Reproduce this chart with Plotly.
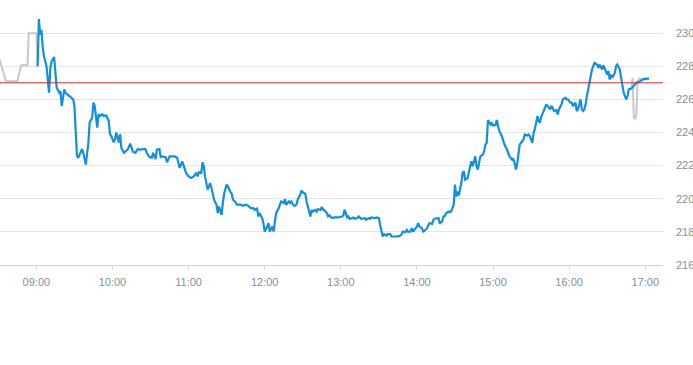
import plotly.graph_objects as go

DAY = "2024-01-02 "

pre_times = ["08:31", "08:36", "08:45", "08:48", "08:53", "08:54", "09:00", "09:01"]
pre_values = [228.42, 227.1, 227.1, 228.06, 228.06, 230.0, 230.0, 228.0]

post_times = ["16:49", "16:50", "16:51", "16:52", "16:53", "16:54", "16:55", "17:03"]
post_values = [226.65, 227.3, 224.9, 224.8, 225.1, 227.1, 227.25, 227.25]

main_times = [
    "09:01", "09:02", "09:03", "09:04", "09:05", "09:06", "09:08", "09:09", "09:10", "09:11",
    "09:12", "09:14", "09:15", "09:16", "09:18", "09:19", "09:20", "09:22", "09:23", "09:25",
    "09:26", "09:29", "09:30", "09:31", "09:32", "09:33", "09:36", "09:37", "09:39", "09:41",
    "09:42", "09:44", "09:45", "09:46", "09:48", "09:49", "09:50", "09:52", "09:53", "09:55",
    "09:57", "09:58", "09:59", "10:01", "10:02", "10:03", "10:05", "10:06", "10:07", "10:09",
    "10:11", "10:12", "10:14", "10:16", "10:18", "10:20", "10:22", "10:24", "10:26", "10:27",
    "10:29", "10:31", "10:32", "10:34", "10:35", "10:37", "10:38", "10:39", "10:41", "10:42",
    "10:43", "10:45", "10:47", "10:49", "10:51", "10:52", "10:53", "10:55", "10:57", "10:58",
    "11:00", "11:02", "11:04", "11:06", "11:07", "11:08", "11:10", "11:11", "11:12", "11:13",
    "11:15", "11:16", "11:17", "11:19", "11:20", "11:22", "11:23", "11:24", "11:26", "11:27",
    "11:28", "11:30", "11:31", "11:33", "11:34", "11:35", "11:37", "11:38", "11:41", "11:43",
    "11:45", "11:47", "11:49", "11:51", "11:52", "11:54", "11:55", "11:56", "11:58", "11:59",
    "12:00", "12:02", "12:03", "12:04", "12:06", "12:07", "12:08", "12:09", "12:11", "12:12",
    "12:13", "12:15", "12:16", "12:17", "12:19", "12:20", "12:21", "12:23", "12:24", "12:25",
    "12:26", "12:28", "12:29", "12:30", "12:32", "12:33", "12:34", "12:36", "12:37", "12:38",
    "12:40", "12:41", "12:42", "12:44", "12:45", "12:46", "12:48", "12:49", "12:50", "12:51",
    "12:53", "12:55", "12:58", "13:01", "13:02", "13:03", "13:05", "13:06", "13:07", "13:09",
    "13:10", "13:11", "13:13", "13:14", "13:15", "13:16", "13:19", "13:20", "13:22", "13:23",
    "13:24", "13:27", "13:28", "13:30", "13:31", "13:32", "13:33", "13:34", "13:36", "13:37",
    "13:39", "13:40", "13:43", "13:45", "13:47", "13:48", "13:49", "13:51", "13:52", "13:53",
    "13:55", "13:56", "13:57", "13:58", "14:00", "14:01", "14:02", "14:04", "14:05", "14:06",
    "14:08", "14:09", "14:10", "14:12", "14:13", "14:14", "14:16", "14:17", "14:18", "14:20",
    "14:21", "14:22", "14:23", "14:25", "14:26", "14:27", "14:29", "14:30", "14:31", "14:32",
    "14:33", "14:34", "14:35", "14:36", "14:37", "14:38", "14:39", "14:40", "14:42", "14:43",
    "14:44", "14:46", "14:47", "14:48", "14:49", "14:50", "14:52", "14:53", "14:54", "14:55",
    "14:56", "14:58", "14:59", "15:00", "15:02", "15:03", "15:04", "15:05", "15:07", "15:08",
    "15:09", "15:11", "15:12", "15:13", "15:15", "15:16", "15:17", "15:18", "15:19", "15:20",
    "15:21", "15:23", "15:24", "15:25", "15:27", "15:28", "15:29", "15:31", "15:32", "15:33",
    "15:34", "15:35", "15:36", "15:37", "15:38", "15:40", "15:41", "15:42", "15:44", "15:45",
    "15:46", "15:47", "15:48", "15:50", "15:51", "15:52", "15:54", "15:55", "15:57", "15:58",
    "15:59", "16:01", "16:02", "16:03", "16:05", "16:06", "16:07", "16:09", "16:10", "16:11",
    "16:12", "16:13", "16:14", "16:15", "16:16", "16:18", "16:19", "16:20", "16:22", "16:23",
    "16:24", "16:26", "16:27", "16:28", "16:30", "16:31", "16:32", "16:33", "16:34", "16:36",
    "16:37", "16:38", "16:40", "16:41", "16:42", "16:43", "16:44", "16:45", "16:46", "16:47",
    "16:49", "16:51", "16:53", "16:56", "16:58", "17:01", "17:03",
]
main_values = [
    228.0, 230.85, 229.9, 230.2, 229.15, 228.6, 228.0, 227.2, 226.4, 227.9,
    228.3, 228.55, 227.6, 226.7, 226.4, 226.5, 225.6, 226.6, 226.4, 226.25,
    226.2, 226.0, 225.6, 224.4, 222.6, 222.47, 223.0, 222.77, 222.06, 223.38,
    224.6, 224.9, 225.8, 225.6, 224.3, 225.1, 225.0, 225.1, 225.0, 225.03,
    224.7, 223.9, 223.8, 223.4, 223.6, 224.0, 223.4, 223.9, 223.07, 222.77,
    222.9, 222.97, 223.33, 222.85, 222.77, 223.0, 222.95, 223.0, 223.0, 222.77,
    222.53, 222.47, 222.77, 222.4, 222.97, 223.0, 222.53, 222.56, 222.53, 222.5,
    222.2, 222.56, 222.56, 222.56, 222.47, 222.06, 221.86, 222.26, 221.76, 221.56,
    221.35, 221.25, 221.35, 221.56, 221.35, 221.6, 221.56, 222.2, 221.96, 221.35,
    220.55, 220.75, 220.95, 220.35, 219.94, 219.64, 219.13, 219.53, 219.03, 219.74,
    220.3, 220.85, 220.75, 220.4, 220.3, 219.94, 219.8, 219.64, 219.64, 219.58,
    219.64, 219.58, 219.43, 219.43, 219.33, 219.4, 218.93, 219.13, 218.83, 218.53,
    218.02, 218.32, 218.53, 218.02, 218.32, 218.02, 218.73, 219.13, 219.43, 219.64,
    219.84, 219.74, 219.98, 219.64, 219.84, 219.74, 219.84, 219.58, 219.58, 219.64,
    219.94, 220.24, 220.5, 220.38, 220.3, 219.84, 219.53, 218.93, 219.33, 219.23,
    219.33, 219.23, 219.37, 219.33, 219.5, 219.37, 219.23, 219.13, 218.93, 219.0,
    218.83, 218.87, 218.87, 218.93, 219.0, 219.33, 218.87, 218.93, 218.79, 218.83,
    218.87, 218.79, 218.83, 218.93, 218.87, 218.79, 218.83, 218.73, 218.83, 218.79,
    218.87, 218.83, 218.87, 218.83, 218.42, 218.12, 217.72, 217.86, 217.78, 217.86,
    217.86, 217.72, 217.72, 217.72, 217.78, 217.86, 218.02, 217.98, 218.12, 218.02,
    218.02, 218.22, 218.02, 218.12, 218.32, 218.53, 218.32, 218.22, 218.02, 218.07,
    218.22, 218.42, 218.53, 218.48, 218.73, 218.79, 218.79, 218.83, 218.5, 218.65,
    218.93, 218.95, 219.13, 219.23, 219.2, 219.23, 219.64, 220.85, 220.14, 220.44,
    220.2, 220.55, 220.95, 221.56, 221.66, 221.15, 221.2, 221.25, 221.96, 222.26,
    221.96, 222.56, 221.96, 221.76, 222.16, 222.56, 222.67, 222.87, 223.27, 223.38,
    224.75, 224.48, 224.59, 224.42, 224.45, 224.75, 224.38, 224.08, 223.78, 223.47,
    223.27, 222.97, 222.77, 222.56, 222.36, 222.4, 222.16, 221.76, 222.06, 222.56,
    223.27, 223.47, 223.58, 223.88, 223.82, 223.88, 223.78, 223.38, 223.98, 224.22,
    224.59, 224.99, 224.69, 224.6, 224.95, 225.4, 225.5, 225.7, 225.5, 225.4,
    225.6, 225.5, 225.3, 225.35, 225.09, 225.4, 225.7, 226.0, 226.1, 226.0,
    226.0, 225.8, 225.8, 225.6, 225.8, 225.3, 225.4, 226.0, 225.4, 225.3,
    225.4, 225.7, 226.2, 226.6, 227.2, 227.8, 228.0, 228.2, 228.1, 227.9,
    228.1, 227.8, 228.06, 227.9, 227.5, 227.7, 227.2, 227.5, 227.3, 227.6,
    228.0, 228.1, 227.8, 227.3, 226.7, 226.4, 226.2, 226.0, 226.2, 226.6,
    226.65, 226.8, 227.0, 227.1, 227.2, 227.25, 227.25,
]

prev_close = 227.0

x_range = ["08:31:20", "17:14:00"]
y_range = [216, 232]
y_ticks = [216, 218, 220, 222, 224, 226, 228, 230]
x_ticks = ["09:00", "10:00", "11:00", "12:00", "13:00", "14:00", "15:00", "16:00", "17:00"]

BLUE = "#118fe0"
GRAY = "#c2c9d0"
RED = "#d12b2b"
TICK_COLOR = "#85909a"

fig = go.Figure()
fig.add_trace(go.Scatter(x=[DAY + t for t in pre_times], y=pre_values, mode="lines",
                         line=dict(color=GRAY, width=2), hoverinfo="skip"))
fig.add_trace(go.Scatter(x=[DAY + t for t in post_times], y=post_values, mode="lines",
                         line=dict(color=GRAY, width=2), hoverinfo="skip"))
fig.add_trace(go.Scatter(x=[DAY + t for t in main_times], y=main_values, mode="lines",
                         line=dict(color=BLUE, width=2.2)))

fig.add_shape(type="line", xref="paper", x0=0, x1=1, yref="y", y0=prev_close, y1=prev_close,
              line=dict(color=RED, width=1))

fig.update_layout(
    width=693, height=365,
    margin=dict(l=0, r=30, t=0, b=100),
    paper_bgcolor="white", plot_bgcolor="white",
    showlegend=False,
    font=dict(family="Liberation Sans, Arial, sans-serif", size=11, color=TICK_COLOR),
    xaxis=dict(
        type="date",
        range=[DAY + x_range[0], DAY + x_range[1]],
        tickvals=[DAY + t for t in x_ticks],
        ticktext=x_ticks,
        showgrid=False, zeroline=False,
        showline=True, linecolor="#cfd4d9", linewidth=1,
        ticks="outside", ticklen=3, tickcolor="#cfd4d9",
        ticklabelstandoff=4,
        automargin=False,
    ),
    yaxis=dict(
        side="right",
        range=y_range,
        tickvals=y_ticks,
        showgrid=True, gridcolor="#e3e6e9", gridwidth=1,
        zeroline=False, showline=False,
        ticks="", ticklabelstandoff=12,
        automargin=False,
    ),
)

fig.write_html("out.html", config={"displayModeBar": False},
               post_script="document.body.style.margin='0';document.body.style.overflow='hidden';")
